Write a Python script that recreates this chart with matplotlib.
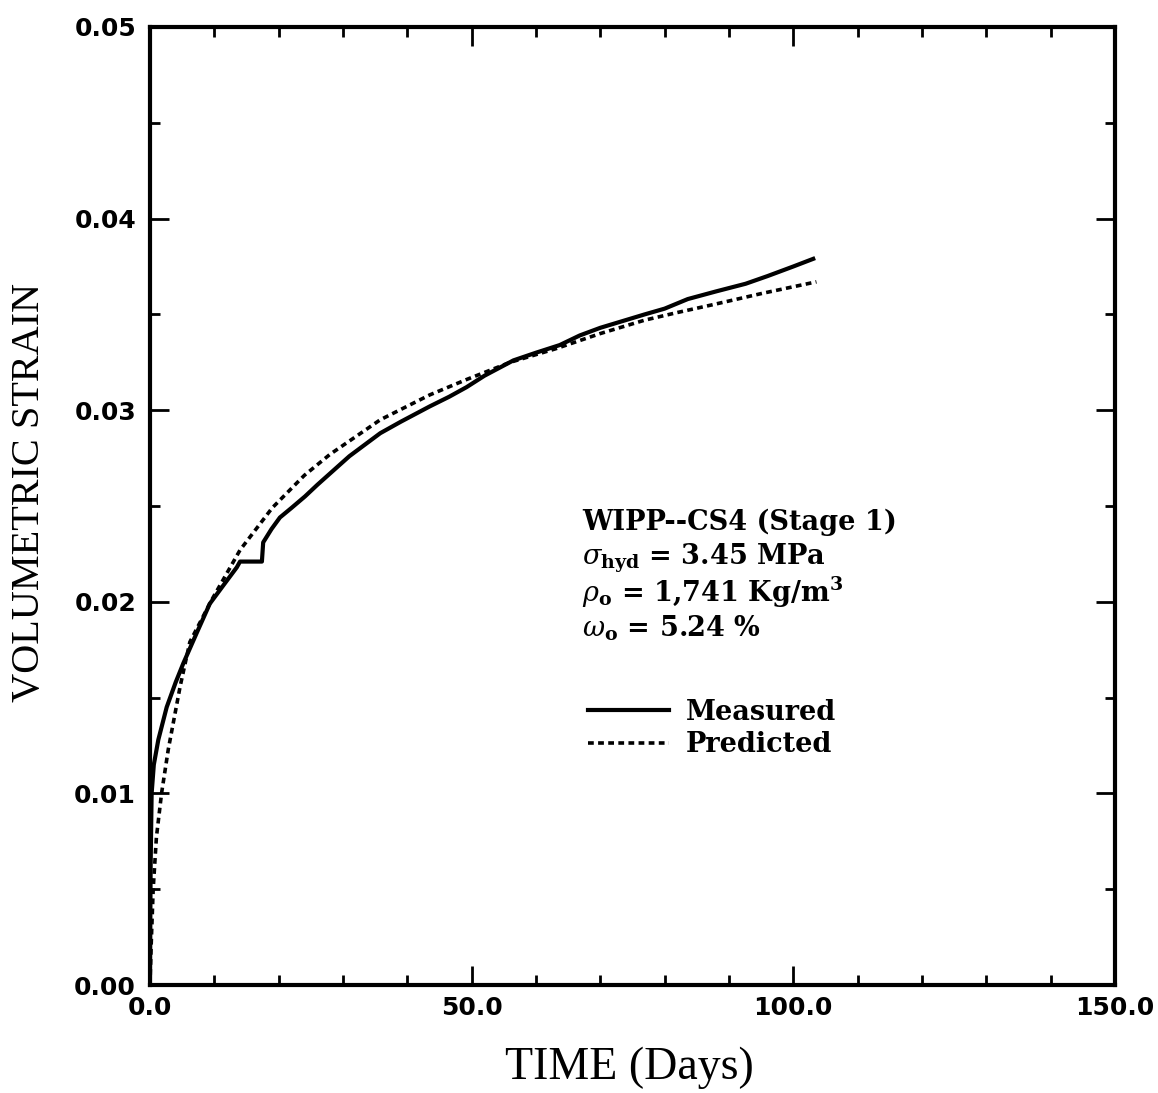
import numpy as np
from matplotlib import pyplot as plt
from matplotlib.ticker import MultipleLocator, FormatStrFormatter

# measured volumetric strain
t_meas = [0.0, 0.05, 0.1, 0.26, 0.6, 1.3, 2.6, 4.0, 5.2, 7.3, 9.3, 11.5, 13.5, 14.0, 17.4,
          17.6, 18.9, 20.2, 22.0, 24.1, 26.0, 28.0, 31.0, 35.8, 39.0, 43.5, 46.5, 49.2,
          52.0, 56.5, 60.0, 63.7, 66.8, 70.0, 76.9, 80.0, 83.6, 88.0, 92.6, 96.0, 100.0, 103.1]
s_meas = [0.0, 0.0035, 0.0062, 0.0100, 0.0115, 0.0128, 0.0145, 0.0158, 0.0168, 0.0184, 0.0199,
          0.0209, 0.0218, 0.0221, 0.0221,
          0.0231, 0.0238, 0.0244, 0.0249, 0.0255, 0.0261, 0.0267, 0.0276, 0.0288, 0.0294,
          0.0302, 0.0307, 0.0312, 0.0318, 0.0326, 0.0330, 0.0334, 0.0339, 0.0343, 0.0350,
          0.0353, 0.0358, 0.0362, 0.0366, 0.0370, 0.0375, 0.0379]

# model prediction
t_pred = [0.0, 0.2, 0.5, 1.0, 1.8, 2.85, 4.7, 6.2, 9.6, 14.0, 19.0, 24.0, 28.0, 35.8,
          43.5, 49.2, 56.0, 63.0, 70.0, 76.9, 82.0, 87.4, 95.2, 103.6]
s_pred = [0.0, 0.0022, 0.0050, 0.0077, 0.0100, 0.0123, 0.0156, 0.0179, 0.0201, 0.0227, 0.0249,
          0.0266, 0.0277, 0.0295, 0.0308, 0.0316, 0.0325, 0.0332, 0.0340, 0.0347,
          0.0351, 0.0355, 0.0361, 0.0367]

info_lines = ['WIPP--CS4 (Stage 1)',
              r'$\sigma_{\mathbf{hyd}}$ = 3.45 MPa',
              r'$\rho_{\mathbf{o}}$ = 1,741 Kg/m$^{\mathbf{3}}$',
              r'$\omega_{\mathbf{o}}$ = 5.24 %']
info_y = [0.475, 0.4385, 0.400, 0.3635]

plt.rcParams['mathtext.fontset'] = 'dejavuserif'

fig = plt.figure(figsize=(11.58, 10.93), dpi=100)
ax = fig.add_axes([0.1295, 0.0988, 0.8333, 0.8765])

ax.plot(t_meas, s_meas, '-', color='black', linewidth=3, label='Measured')
ax.plot(t_pred, s_pred, color='black', linewidth=2.6, linestyle=(0, (1.6, 1.2)),
        label='Predicted')

ax.set_xlim(0, 150)
ax.set_ylim(0, 0.05)
ax.xaxis.set_major_locator(MultipleLocator(50))
ax.xaxis.set_minor_locator(MultipleLocator(10))
ax.yaxis.set_major_locator(MultipleLocator(0.01))
ax.yaxis.set_minor_locator(MultipleLocator(0.005))
ax.xaxis.set_major_formatter(FormatStrFormatter('%.1f'))
ax.yaxis.set_major_formatter(FormatStrFormatter('%.2f'))

for sp in ax.spines.values():
    sp.set_linewidth(3)
ax.tick_params(which='both', direction='in', top=True, right=True, width=2)
ax.tick_params(which='major', length=14)
ax.tick_params(which='minor', length=7)
ax.tick_params(axis='x', pad=8)
ax.tick_params(axis='y', pad=10)
for lab in ax.get_xticklabels() + ax.get_yticklabels():
    lab.set_fontfamily('DejaVu Sans')
    lab.set_fontweight('bold')
    lab.set_fontsize(18)

ax.set_xlabel('TIME (Days)', fontsize=33, family='Liberation Serif')
ax.set_ylabel('VOLUMETRIC STRAIN', fontsize=29, family='Liberation Serif')
ax.xaxis.set_label_coords(0.4964, -0.064)
ax.yaxis.set_label_coords(-0.106, 0.5136)

for line, yy in zip(info_lines, info_y):
    ax.text(0.448, yy, line, transform=ax.transAxes, fontsize=19.5, family='DejaVu Serif',
            fontweight='bold', va='baseline', ha='left')

leg = ax.legend(loc='upper left', bbox_to_anchor=(0.44, 0.313), frameon=False,
                prop={'family': 'DejaVu Serif', 'weight': 'bold', 'size': 19.5},
                handlelength=3.0, handletextpad=0.6, labelspacing=0.2, borderpad=0)

fig.savefig('out.png', dpi=100)
